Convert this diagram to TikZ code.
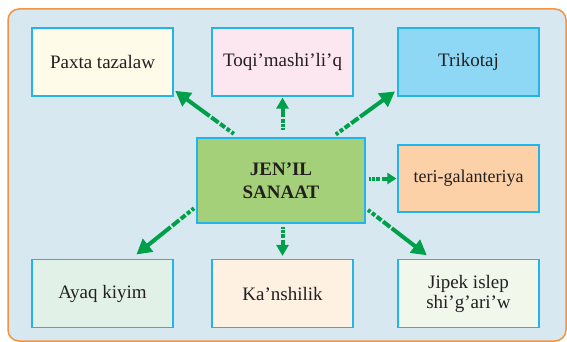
\documentclass[tikz,border=0pt]{standalone}
\usepackage{fontspec}
\setmainfont{Liberation Serif}
\usetikzlibrary{arrows.meta,calc}

\definecolor{framefill}{HTML}{D7E8F1}
\definecolor{frameline}{HTML}{F29441}
\definecolor{boxline}{HTML}{22B5EC}
\definecolor{arrgreen}{HTML}{00A04B}
\definecolor{textc}{HTML}{231F20}

\begin{document}
\begin{tikzpicture}[
        x=1pt, y=-1pt,
        box/.style  = {draw=boxline, line width=1.2pt, minimum width=141pt, minimum height=68pt,
                       inner sep=2pt, align=center, text=textc, font=\fontsize{19}{20}\selectfont},
        arr/.style  = {draw=arrgreen, line width=4pt, -{Triangle[length=15pt,width=16pt]},
                       dash pattern=on 3pt off 2pt on 4pt off 2pt on 6pt off 2pt on 9pt off 2pt on 40pt off 2pt},
        sarr/.style = {draw=arrgreen, line width=4pt, -{Triangle[length=11pt,width=12pt]},
                       dash pattern=on 2pt off 1.5pt on 2.5pt off 1.5pt on 4pt off 1.5pt on 30pt off 2pt}
    ]
        \useasboundingbox (0,0) rectangle (567,342);
        \draw[fill=framefill, draw=frameline, line width=1.5pt, rounded corners=11pt] (8,9) rectangle (566,341);

        % top row
        \node[box, fill={rgb,255:red,254;green,251;blue,233}] (p) at (102.5,62)  {Paxta tazalaw};
        \node[box, fill={rgb,255:red,252;green,230;blue,240}] (t) at (282.5,62)  {Toqi’mashi’li’q};
        \node[box, fill={rgb,255:red,142;green,216;blue,245}] (k) at (468.5,62)  {Trikotaj};
        % middle row
        \node[box, fill={rgb,255:red,163;green,208;blue,120}, minimum width=168pt, minimum height=85pt,
              font=\bfseries\fontsize{19}{23}\selectfont] (c) at (281,180.5) {JEN’IL\\SANAAT};
        \node[box, fill={rgb,255:red,253;green,209;blue,168}, minimum height=67pt,
              font=\fontsize{18}{20}\selectfont] (e) at (468.5,178.5) {teri-galanteriya};
        % bottom row
        \node[box, fill={rgb,255:red,226;green,241;blue,231}] (a) at (102.5,293.5) {Ayaq kiyim};
        \node[box, fill={rgb,255:red,254;green,241;blue,226}] (n) at (282.5,293.5) {Ka’nshilik};
        \node[box, fill={rgb,255:red,241;green,247;blue,234}] (j) at (468.5,293.5) {Jipek islep\\shi’g’ari’w};

        % connectors
        \draw[arr, shorten <=6pt, shorten >=2pt]
            ($(c.north west)!0.25!(c.north east)$) -- ($(p.south east)!0.1!(p.north east)$);
        \draw[arr, shorten <=5pt, shorten >=3pt]
            ($(c.north west)!0.8!(c.north east)$) -- ($(k.south west)!0.1!(k.north west)$);
        \draw[sarr, shorten <=7pt, shorten >=1pt] (c.north -| t) -- (t.south);
        \draw[sarr, -{Triangle[length=9pt,width=11pt]}, shorten <=3pt, shorten >=1pt] (c.east |- e) -- (e.west);
        \draw[arr, shorten <=3pt, shorten >=7pt]
            ($(c.north west)!0.8!(c.south west)$) -- ($(a.north west)!0.7!(a.north east)$);
        \draw[sarr, shorten <=3pt, shorten >=3pt] (c.south -| n) -- (n.north);
        \draw[arr, shorten <=3pt, shorten >=6pt]
            ($(c.north east)!0.82!(c.south east)$) -- ($(j.north west)!0.24!(j.north east)$);
\end{tikzpicture}
\end{document}
